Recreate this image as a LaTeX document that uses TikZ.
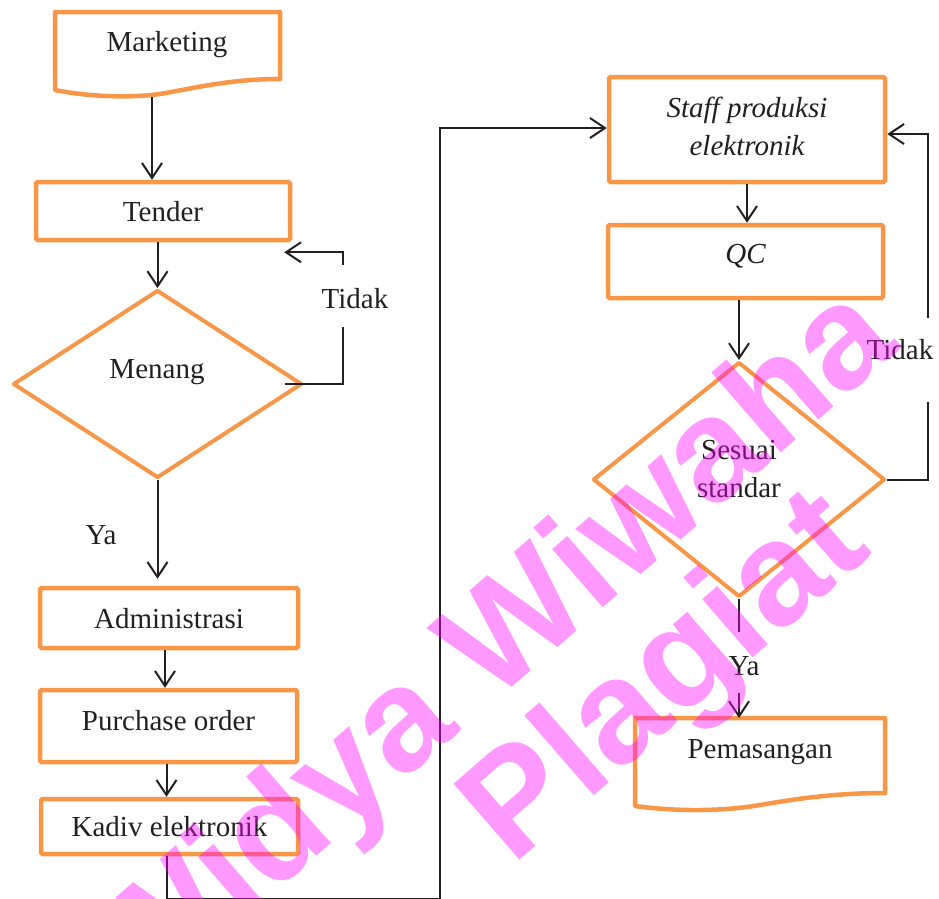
\documentclass[tikz,border=0pt]{standalone}
\usepackage{fontspec}
\setmainfont{Liberation Serif}
\newfontfamily\wmfont{Liberation Sans}
\usetikzlibrary{shapes.geometric,arrows.meta}
\definecolor{orng}{HTML}{F79646}
\definecolor{ink}{HTML}{231F20}
\definecolor{wmc}{RGB}{255,0,255}
\begin{document}
\begin{tikzpicture}[x=1pt,y=-1pt,
  box/.style={draw=orng, line width=4.5pt, rounded corners=1.5pt, font=\fontsize{29}{38}\selectfont, text=ink, inner sep=0pt, text height=20pt, text depth=0pt},
  dec/.style={diamond, draw=orng, line width=4pt, inner sep=0pt, line join=round},
  docshape/.style={draw=orng, line width=4.5pt, line join=round},
  holder/.style={inner sep=0pt, outer sep=0pt},
  txt/.style={font=\fontsize{29}{38}\selectfont, text=ink, inner sep=0pt},
  wire/.style={draw=ink, line width=2pt},
  arr/.style={wire, -{Straight Barb[length=15pt,width=20pt,line width=2pt]}},
  wm/.style={font=\wmfont\bfseries\fontsize{146}{146}\selectfont, text=wmc, text opacity=0.4, inner sep=0pt, anchor=base west, rotate=41}
]
\useasboundingbox (0,0) rectangle (939,898);

% ---- left column ----
\node[holder, minimum width=225pt, minimum height=85pt] (mkt) at (167.5,54.5) {};
\draw[docshape] (55,12) -- (280,12) -- (280,79) .. controls (230,79) and (195,88) .. (160,94) .. controls (130,98) and (90,97) .. (55,90) -- cycle;
\node[txt, anchor=base] (mkt-t) at (167,51) {Marketing};

\node[box, minimum width=254pt, minimum height=58pt] (ten) at (163,211) {Tender};

\node[dec, minimum width=289pt, minimum height=188pt] (men) at (157.5,384) {};
\node[txt, anchor=base] (men-t) at (157,378) {Menang};

\node[box, minimum width=258pt, minimum height=60pt] (adm) at (169,618) {Administrasi};
\node[box, minimum width=257pt, minimum height=72pt, text depth=12pt] (po) at (168.5,726) {Purchase order};
\node[box, minimum width=257pt, minimum height=55pt] (kad) at (169.5,826.5) {Kadiv elektronik};

% ---- right column ----
\node[box, minimum width=276pt, minimum height=105pt, text height=, text depth=] (stf) at (747,129.5) {};
\node[txt, align=center, font=\fontsize{29}{38}\selectfont\itshape] (stf-t) at (747,126.5) {Staff produksi\\elektronik};

\node[box, minimum width=275pt, minimum height=73pt, text depth=17pt, font=\fontsize{29}{38}\selectfont\itshape] (qc) at (745.5,261.5) {QC};

\node[dec, minimum width=292pt, minimum height=235pt] (ses) at (739,479.5) {};
\node[txt, align=center] (ses-t) at (739,469.5) {Sesuai\\standar};

\node[holder, minimum width=250pt, minimum height=93pt] (pem) at (760,764.5) {};
\draw[docshape] (635,718) -- (885,718) -- (885,793) .. controls (830,793) and (790,800) .. (760,805) .. controls (725,811) and (680,812) .. (635,806) -- cycle;
\node[txt, anchor=base] (pem-t) at (760,758) {Pemasangan};

% ---- connectors ----
\draw[arr] ([xshift=-15.5pt]mkt.south) -- ([xshift=-11pt]ten.north);
\draw[arr] (men.north |- ten.south) -- (men.north);

\coordinate (lg1) at (343,327);
\coordinate (lg2) at (343,265);
\draw[wire] ([xshift=-19pt]men.east) -| (lg1);
\draw[arr] (lg2) |- ([xshift=-8pt,yshift=-10pt]ten.south east);
\node[txt, anchor=base] (tid1) at (355,308) {Tidak};

\draw[arr] (men.south) -- ([yshift=7pt]adm.north -| men.south);
\node[txt, anchor=base] (ya1) at (101,544) {Ya};

\draw[arr] ([xshift=-4pt]adm.south) -- ([xshift=-4pt]adm.south |- po.north);
\draw[arr] ([xshift=-2pt]po.south) -- ([xshift=-2pt]po.south |- kad.north);

\coordinate (b1) at (440,898.6);
\draw[arr] ([xshift=-2.5pt]kad.south) |- (b1) |- ([yshift=1.5pt]stf.west);

\draw[arr] (stf.south) -- (stf.south |- qc.north);
\draw[arr] (ses.north |- qc.south) -- (ses.north);

\coordinate (rg1) at (928,402);
\coordinate (rg2) at (928,318);
\draw[wire] (ses.east) -| (rg1);
\draw[arr] (rg2) |- ([yshift=-4.5pt]stf.east);
\node[txt, anchor=base] (tid2) at (900,359) {Tidak};

\coordinate (yg1) at (739,632);
\coordinate (yg2) at (739,693);
\draw[wire] (ses.south) -- (yg1);
\draw[arr] (yg2) -- (yg2 |- pem.north);
\node[txt, anchor=base] (ya2) at (744,675) {Ya};

% ---- watermark ----
\begin{scope}
\clip (0,0) rectangle (939,898);
\node[wm] (wm1) at (138,1012) {Widya Wiwaha};
\node[wm] (wm2) at (512.5,866.5) {Plagiat};
\end{scope}
\end{tikzpicture}
\end{document}
